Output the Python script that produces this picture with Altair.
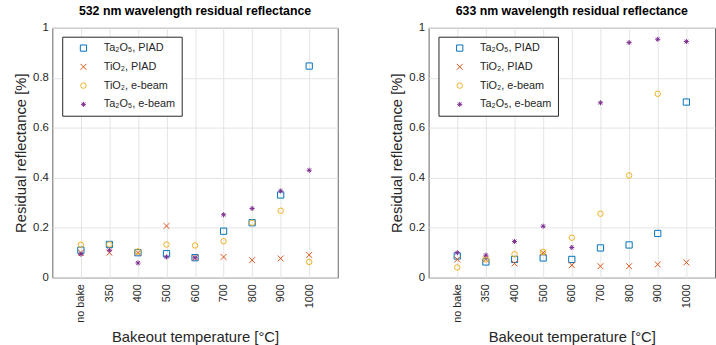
import altair as alt
import pandas as pd

# Bakeout temperatures (category axis) and the four coating series
temps = ["no bake", "350", "400", "500", "600", "700", "800", "900", "1000"]
series = ["Ta₂O₅, PIAD", "TiO₂, PIAD", "TiO₂, e-beam", "Ta₂O₅, e-beam"]

# Residual reflectance [%] at 532 nm
r532_ta2o5_piad = [0.110, 0.133, 0.100, 0.096, 0.080, 0.186, 0.220, 0.331, 0.847]
r532_tio2_piad = [0.100, 0.100, 0.100, 0.207, 0.080, 0.083, 0.070, 0.077, 0.091]
r532_tio2_ebeam = [0.132, 0.133, 0.105, 0.133, 0.129, 0.146, 0.220, 0.268, 0.063]
r532_ta2o5_ebeam = [0.094, 0.110, 0.059, 0.083, 0.080, 0.252, 0.277, 0.347, 0.430]

# Residual reflectance [%] at 633 nm
r633_ta2o5_piad = [0.087, 0.063, 0.073, 0.079, 0.073, 0.119, 0.131, 0.177, 0.703]
r633_tio2_piad = [0.073, 0.073, 0.057, 0.100, 0.050, 0.046, 0.046, 0.053, 0.061]
r633_tio2_ebeam = [0.041, 0.073, 0.094, 0.103, 0.160, 0.256, 0.409, 0.736, None]
r633_ta2o5_ebeam = [0.100, 0.090, 0.145, 0.206, 0.121, 0.700, 0.941, 0.954, 0.945]

colors = ["#0072BD", "#D95319", "#EDB120", "#7E2F8E"]
shapes = [
    "square",
    "M-1,-1L1,1M-1,1L1,-1",
    "circle",
    "M0,-1L0,1M-1,0L1,0M-0.72,-0.72L0.72,0.72M-0.72,0.72L0.72,-0.72",
]
sizes = [40, 26, 58, 60]

FONT = "Liberation Sans"
TXT = "#262626"


def long_table(cols):
    rows = []
    for name, vals in zip(series, cols):
        for i, v in enumerate(vals):
            if v is not None:
                rows.append({"pos": i + 1, "temp": temps[i], "series": name, "value": v})
    return pd.DataFrame(rows)


def panel(title, df, width):
    label_expr = "[" + ",".join(f"'{t}'" for t in temps) + "][datum.value - 1]"
    legend = alt.Legend(
        title=None,
        orient="none",
        legendX=10,
        legendY=9,
        strokeColor=TXT,
        fillColor="white",
        padding=6,
        labelFont=FONT,
        labelFontSize=11,
        labelColor=TXT,
        labelOffset=15,
        rowPadding=7,
        symbolStrokeWidth=1,
        symbolOffset=10,
        labelLimit=200,
    )
    return (
        alt.Chart(df)
        .mark_point(filled=False, strokeWidth=1, opacity=1)
        .encode(
            x=alt.X(
                "pos:Q",
                scale=alt.Scale(domain=[0, 10], nice=False),
                axis=alt.Axis(
                    values=list(range(1, 10)),
                    labelExpr=label_expr,
                    labelAngle=270,
                    labelAlign="right",
                    labelBaseline="middle",
                    labelFontSize=11,
                    labelPadding=6,
                    title="Bakeout temperature [°C]",
                    titlePadding=7,
                ),
            ),
            y=alt.Y(
                "value:Q",
                scale=alt.Scale(domain=[0, 1], nice=False),
                axis=alt.Axis(
                    values=[0, 0.2, 0.4, 0.6, 0.8, 1],
                    format="~g",
                    labelFontSize=11.5,
                    labelPadding=4,
                    title="Residual reflectance [%]",
                    titlePadding=4,
                ),
            ),
            color=alt.Color("series:N", scale=alt.Scale(domain=series, range=colors), legend=legend),
            shape=alt.Shape("series:N", scale=alt.Scale(domain=series, range=shapes), legend=legend),
            size=alt.Size("series:N", scale=alt.Scale(domain=series, range=sizes), legend=legend),
        )
        .properties(
            width=width,
            height=253,
            title=alt.TitleParams(title, fontSize=12.5, fontWeight="bold", font=FONT, color="black", offset=4),
        )
    )


left = panel(
    "532 nm wavelength residual reflectance",
    long_table([r532_ta2o5_piad, r532_tio2_piad, r532_tio2_ebeam, r532_ta2o5_ebeam]),
    289,
)
right = panel(
    "633 nm wavelength residual reflectance",
    long_table([r633_ta2o5_piad, r633_tio2_piad, r633_tio2_ebeam, r633_ta2o5_ebeam]),
    290,
)

chart = (
    alt.hconcat(left, right, spacing=51)
    .resolve_scale(color="independent", shape="independent", size="independent")
    .resolve_legend(color="independent", shape="independent", size="independent")
    .properties(padding={"left": 13, "top": 3, "right": 0, "bottom": 0}, background="white")
    .configure_view(stroke="#666666", strokeWidth=1)
    .configure_axis(
        labelFont=FONT,
        labelColor=TXT,
        titleFont=FONT,
        titleFontSize=15,
        titleFontWeight="normal",
        titleColor=TXT,
        grid=True,
        gridColor="#e4e4e4",
        gridWidth=1,
        domain=False,
        ticks=False,
    )
)

chart.save("out.html", embed_options={"renderer": "svg", "actions": False})
